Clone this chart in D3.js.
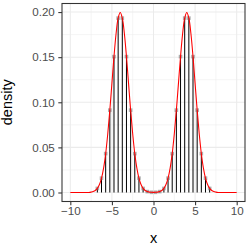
<!DOCTYPE html>
<html>
<head>
<meta charset="utf-8">
<script src="https://cdn.jsdelivr.net/npm/d3@7"></script>
<style>
  body { margin: 0; background: #fff; }
  text { font-family: "Liberation Sans", Arial, sans-serif; }
</style>
</head>
<body>
<script>
// stems (x, density)
let stemX = [-6.75, -6.25, -5.75, -5.25, -4.75, -4.25, -3.75, -3.25, -2.75, -2.25, -1.75, -1.25, -0.75, -0.25,
             0.25, 0.75, 1.25, 1.75, 2.25, 2.75, 3.25, 3.75, 4.25, 4.75, 5.25, 5.75, 6.25, 6.75];
let stemY = [0.0045, 0.0159, 0.0431, 0.0913, 0.1506, 0.1933, 0.1933, 0.1506, 0.0913, 0.0431, 0.0159, 0.0045, 0.001, 0.0002,
             0.0002, 0.001, 0.0045, 0.0159, 0.0431, 0.0913, 0.1506, 0.1933, 0.1933, 0.1506, 0.0913, 0.0431, 0.0159, 0.0045];

// red density curve, x = -10 .. 10 every 0.25
let curveY = [0, 0, 0, 0, 0, 0, 0, 0, 0, 0, 0.0004, 0.001,
              0.0022, 0.0045, 0.0088, 0.0159, 0.027, 0.0431, 0.0648, 0.0913, 0.121, 0.1506, 0.176, 0.1933,
              0.1995, 0.1933, 0.176, 0.1506, 0.121, 0.0913, 0.0648, 0.0431, 0.027, 0.0159, 0.0088, 0.0045,
              0.0022, 0.001, 0.0004, 0.0002, 0.0001, 0.0002, 0.0004, 0.001, 0.0022,
              0.0045, 0.0088, 0.0159, 0.027, 0.0431, 0.0648, 0.0913, 0.121, 0.1506, 0.176, 0.1933,
              0.1995, 0.1933, 0.176, 0.1506, 0.121, 0.0913, 0.0648, 0.0431, 0.027, 0.0159, 0.0088, 0.0045,
              0.0022, 0.001, 0.0004, 0, 0, 0, 0, 0, 0, 0, 0, 0, 0];
let curveX = curveY.map((d, i) => -10 + i * 0.25);

let xTicks = [-10, -5, 0, 5, 10];
let xMinor = [-7.5, -2.5, 2.5, 7.5];
let yTicks = [0, 0.05, 0.1, 0.15, 0.2];
let yMinor = [0.025, 0.075, 0.125, 0.175];

let W = 249, H = 249;
let m = {left: 62, right: 4, top: 3.5, bottom: 47.5};

let svg = d3.select("body").append("svg")
  .attr("width", W)
  .attr("height", H);

let x = d3.scaleLinear().domain([-11, 11]).range([m.left, W - m.right]);
let y = d3.scaleLinear().domain([-0.00998, 0.2095]).range([H - m.bottom, m.top]);

// grid
let grid = svg.append("g");
grid.selectAll(".xminor").data(xMinor).enter().append("line")
  .attr("x1", d => x(d)).attr("x2", d => x(d))
  .attr("y1", m.top).attr("y2", H - m.bottom)
  .attr("stroke", "#ebebeb").attr("stroke-width", 0.55);
grid.selectAll(".yminor").data(yMinor).enter().append("line")
  .attr("x1", m.left).attr("x2", W - m.right)
  .attr("y1", d => y(d)).attr("y2", d => y(d))
  .attr("stroke", "#ebebeb").attr("stroke-width", 0.55);
grid.selectAll(".xmajor").data(xTicks).enter().append("line")
  .attr("x1", d => x(d)).attr("x2", d => x(d))
  .attr("y1", m.top).attr("y2", H - m.bottom)
  .attr("stroke", "#ebebeb").attr("stroke-width", 1.07);
grid.selectAll(".ymajor").data(yTicks).enter().append("line")
  .attr("x1", m.left).attr("x2", W - m.right)
  .attr("y1", d => y(d)).attr("y2", d => y(d))
  .attr("stroke", "#ebebeb").attr("stroke-width", 1.07);

// stems
svg.selectAll(".stem").data(stemX).enter().append("line")
  .attr("x1", d => x(d)).attr("x2", d => x(d))
  .attr("y1", y(0)).attr("y2", (d, i) => y(stemY[i]))
  .attr("stroke", "black").attr("stroke-width", 1);

// points
svg.selectAll(".pt").data(stemX).enter().append("rect")
  .attr("x", d => x(d) - 1.8)
  .attr("y", (d, i) => y(stemY[i]) - 1.8)
  .attr("width", 3.6).attr("height", 3.6)
  .attr("fill", "#808080").attr("opacity", 0.65);

// curve
let line = d3.line()
  .x((d, i) => x(curveX[i]))
  .y(d => y(d))
  .curve(d3.curveCatmullRom);
svg.append("path")
  .datum(curveY)
  .attr("d", line)
  .attr("fill", "none")
  .attr("stroke", "red")
  .attr("stroke-width", 1.07);

// border
svg.append("rect")
  .attr("x", m.left).attr("y", m.top)
  .attr("width", W - m.left - m.right).attr("height", H - m.top - m.bottom)
  .attr("fill", "none").attr("stroke", "#333333").attr("stroke-width", 1.07);

// axes
let xAxis = svg.append("g")
  .attr("transform", "translate(0," + (H - m.bottom) + ")")
  .call(d3.axisBottom(x).tickValues(xTicks).tickSize(3.7).tickPadding(2).tickFormat(d => d < 0 ? "\u2212" + Math.abs(d) : d));
let yAxis = svg.append("g")
  .attr("transform", "translate(" + m.left + ",0)")
  .call(d3.axisLeft(y).tickValues(yTicks).tickSize(3.7).tickPadding(3.5).tickFormat(d3.format(".2f")));

[xAxis, yAxis].forEach(a => {
  a.select(".domain").remove();
  a.selectAll("line").attr("stroke", "#333333").attr("stroke-width", 1.07);
  a.selectAll("text").attr("fill", "#4d4d4d").style("font-size", "11.6px");
});

// titles
svg.append("text")
  .attr("x", x(0)).attr("y", 243)
  .attr("text-anchor", "middle")
  .style("font-size", "14.5px")
  .text("x");
svg.append("text")
  .attr("transform", "translate(12," + y(0.1) + ") rotate(-90)")
  .attr("text-anchor", "middle")
  .style("font-size", "14.5px")
  .text("density");
</script>
</body>
</html>
